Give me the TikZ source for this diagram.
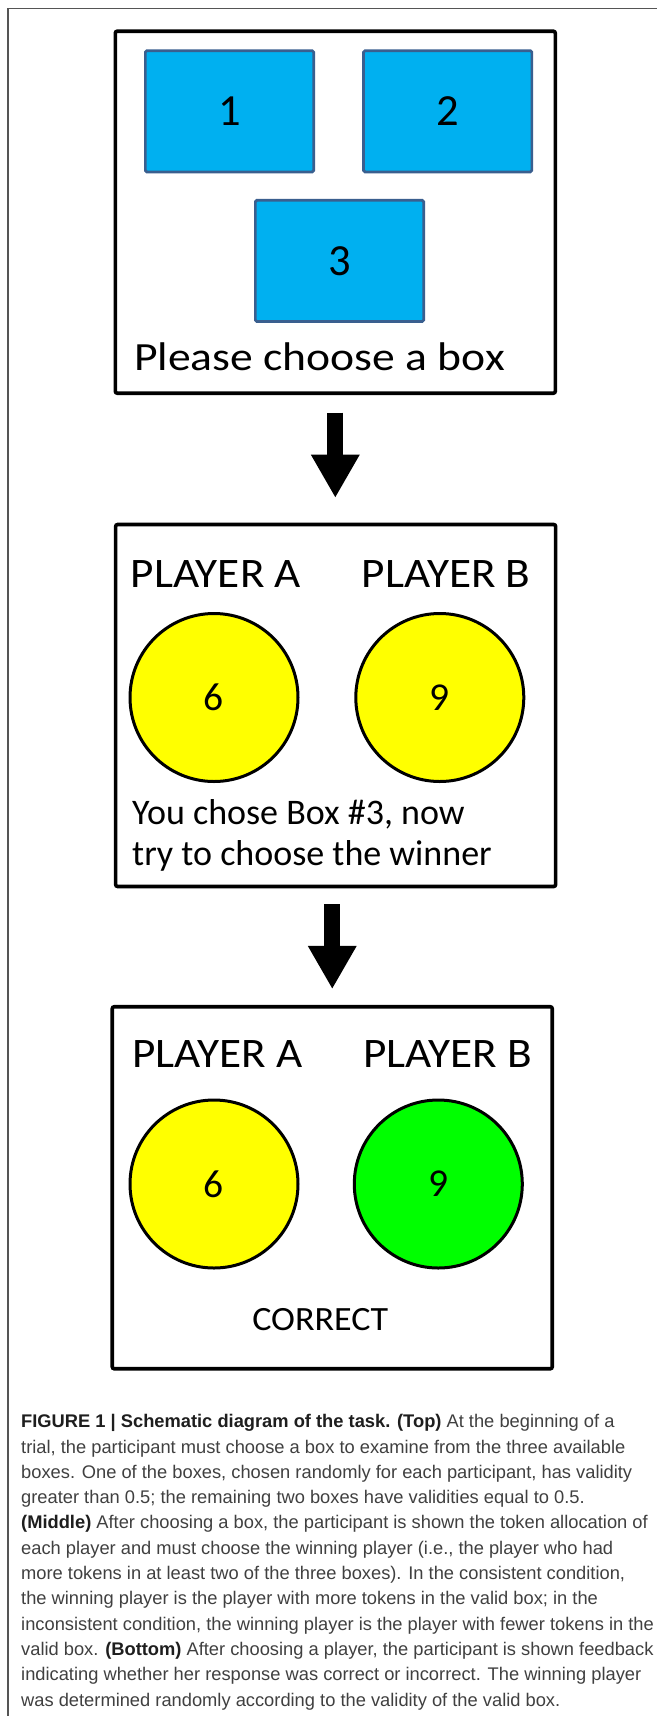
\documentclass[tikz,border=0pt]{standalone}
\usepackage{fontspec}
\setmainfont{Carlito}
\newfontfamily\diafont{Carlito}
\newfontfamily\fplease[FakeStretch=1.14]{Carlito}
\newfontfamily\fplayer[FakeStretch=1.077]{Carlito}
\newfontfamily\fcorrect[FakeStretch=1.06]{Carlito}
\newfontfamily\capfont{Liberation Sans}
\usetikzlibrary{arrows.meta,shapes.geometric}
\definecolor{boxblue}{HTML}{00B0F0}
\definecolor{boxedge}{HTML}{3A5F8F}
\definecolor{tokyellow}{HTML}{FFFF00}
\definecolor{tokgreen}{HTML}{00FF00}
\definecolor{framegray}{HTML}{555555}
\definecolor{captext}{HTML}{404040}
\definecolor{capbold}{HTML}{1E1E1E}
\tikzset{
  panel/.style={draw=black, line width=3.6pt, rounded corners=2pt, fill=white,
    minimum width=440pt, minimum height=362pt, inner sep=0pt},
  bluebox/.style={draw=boxedge, fill=boxblue, line width=2.7pt, rounded corners=1.5pt,
    minimum width=168.3pt, minimum height=121.3pt, inner sep=0pt,
    font=\diafont\fontsize{44.5}{44.5}\selectfont},
  token/.style={circle, draw=black, line width=3pt, minimum size=168pt,
    inner sep=0pt, font=\diafont\fontsize{39.5}{40}\selectfont},
  playerlbl/.style={anchor=base, inner sep=0pt, font=\fplayer\fontsize{42}{42}\selectfont},
  msg/.style={anchor=base west, inner sep=0pt, font=\diafont\fontsize{36}{36}\selectfont},
  capline/.style={anchor=base west, inner sep=0pt, text=captext, font=\capfont\fontsize{18.3}{18.3}\selectfont},
  blockarrow/.style={line width=16pt, -{Triangle[width=45.6pt,length=43.3pt]}},
}
\newcommand{\capb}[1]{\textcolor{capbold}{\bfseries #1}}
\begin{document}
\begin{tikzpicture}[x=1pt,y=-1pt]
\useasboundingbox (0,0) rectangle (657,1716);
\fill[white] (0,0) rectangle (657,1716);
\draw[framegray, line width=1.3pt] (8,1716) -- (8,8.5) -- (657,8.5);

% top panel
\node[panel] (top) at (335.3,212.2) {};
\node[bluebox] (b1) at (229.5,111.3) {1};
\node[bluebox] (b2) at (447.7,111.3) {2};
\node[bluebox] (b3) at (339.5,260.9) {3};
\node[anchor=base west, inner sep=0pt, font=\fplease\fontsize{40}{40}\selectfont] (please) at (134,370) {Please choose a box};

% middle panel
\node[panel] (mid) at (335.65,705.5) {};
\node[playerlbl] (ma) at (215.8,587) {PLAYER A};
\node[playerlbl] (mb) at (446.2,587) {PLAYER B};
\node[token, fill=tokyellow] (ta) at (214,697.5) {6};
\node[token, fill=tokyellow] (tb) at (439.8,697.5) {9};
\node[msg] (chose1) at (132,824) {You chose Box \#3, now};
\node[msg] (chose2) at (132,865) {try to choose the winner};

% bottom panel
\node[panel] (bot) at (332.25,1187.75) {};
\node[playerlbl] (ba) at (217.4,1067) {PLAYER A};
\node[playerlbl] (bb) at (447.7,1067) {PLAYER B};
\node[token, fill=tokyellow] (ua) at (214,1184) {6};
\node[token, fill=tokgreen] (ub) at (438.3,1184) {9};
\node[anchor=base, inner sep=0pt, font=\fcorrect\fontsize{34}{34}\selectfont] (corr) at (320.3,1330) {CORRECT};

% arrows
\draw[blockarrow, shorten <=17.5pt, shorten >=24.8pt] (top.south) -- (top.south |- mid.north);
\draw[blockarrow, shorten <=15.8pt, shorten >=15.8pt] (mid.south -| bot.north) -- (bot.north);

% caption
\node[capline] (c1) at (21,1427.7) {\capb{FIGURE 1 | Schematic diagram of the task. (Top)} At the beginning of a};
\node[capline] (c2) at (21,1453.0) {trial, the participant must choose a box to examine from the three available};
\node[capline] (c3) at (21,1478.3) {boxes. One of the boxes, chosen randomly for each participant, has validity};
\node[capline] (c4) at (21,1503.6) {greater than 0.5; the remaining two boxes have validities equal to 0.5.};
\node[capline] (c5) at (21,1528.9) {\capb{(Middle)} After choosing a box, the participant is shown the token allocation of};
\node[capline] (c6) at (21,1554.2) {each player and must choose the winning player (i.e., the player who had};
\node[capline] (c7) at (21,1579.5) {more tokens in at least two of the three boxes). In the consistent condition,};
\node[capline] (c8) at (21,1604.8) {the winning player is the player with more tokens in the valid box; in the};
\node[capline] (c9) at (21,1630.1) {inconsistent condition, the winning player is the player with fewer tokens in the};
\node[capline] (c10) at (21,1655.4) {valid box. \capb{(Bottom)} After choosing a player, the participant is shown feedback};
\node[capline] (c11) at (21,1680.7) {indicating whether her response was correct or incorrect. The winning player};
\node[capline] (c12) at (21,1706.0) {was determined randomly according to the validity of the valid box.};
\end{tikzpicture}
\end{document}
